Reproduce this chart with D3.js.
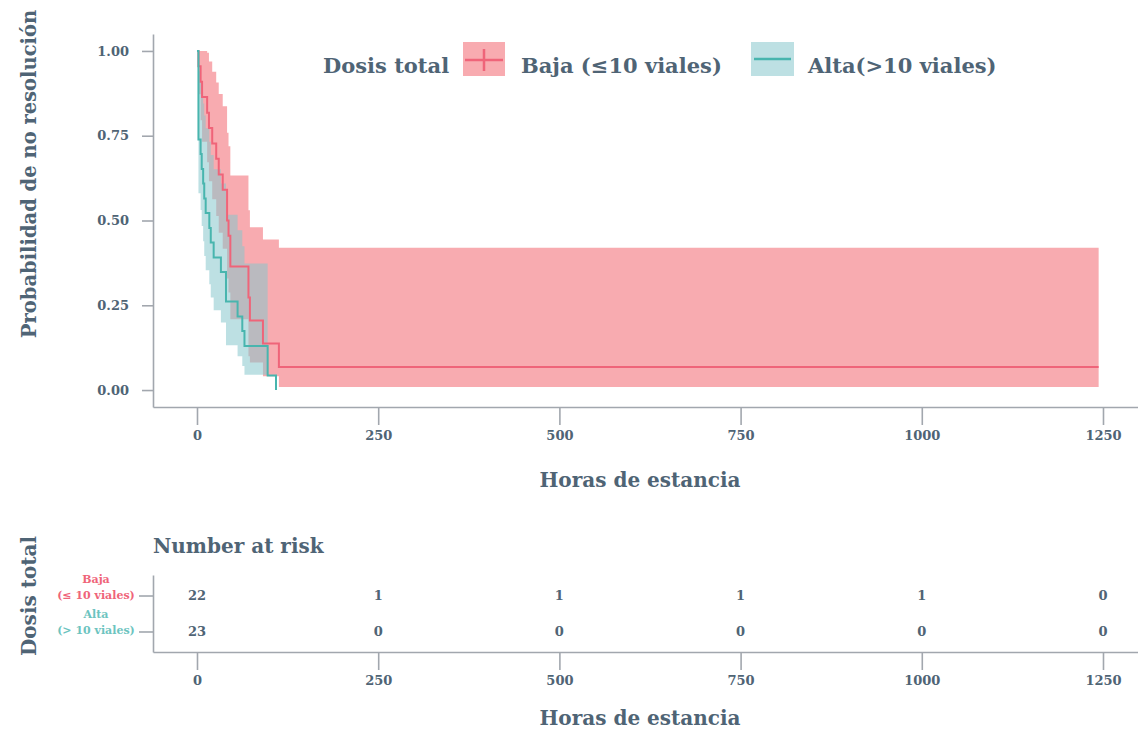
<!DOCTYPE html>
<html>
<head>
<meta charset="utf-8">
<script src="https://cdn.jsdelivr.net/npm/d3@7"></script>
<style>
  body { margin: 0; background: #fff; }
  svg text { font-family: "DejaVu Serif", Georgia, serif; font-weight: bold; }
</style>
</head>
<body>
<svg id="chart" width="1138" height="729"></svg>
<script>
// Kaplan-Meier curves (hours, survival, 95% band)
const bajaTime  = [0, 2, 5, 7, 14, 16.5, 21, 26.5, 30, 35.5, 41.5, 43.5, 46, 71, 73, 91, 113];
const bajaSurv  = [1, 0.955, 0.909, 0.864, 0.818, 0.773, 0.727, 0.682, 0.636, 0.591, 0.500, 0.455, 0.364, 0.273, 0.205, 0.137, 0.068];
const bajaUpper = [1, 1, 1, 1, 0.995, 0.969, 0.939, 0.907, 0.873, 0.837, 0.759, 0.719, 0.633, 0.53, 0.48, 0.444, 0.42];
const bajaLower = [1, 0.872, 0.796, 0.732, 0.672, 0.616, 0.563, 0.513, 0.464, 0.417, 0.329, 0.288, 0.209, 0.10, 0.081, 0.041, 0.009];
const bajaEnd = 1244;

const altaTime  = [0, 2, 5, 6.5, 8.5, 10, 12, 17, 19, 23, 33, 40, 56, 62.5, 65.5, 97.5, 109];
const altaSurv  = [1, 0.739, 0.696, 0.652, 0.609, 0.565, 0.522, 0.478, 0.435, 0.391, 0.348, 0.261, 0.217, 0.174, 0.130, 0.043, 0];
const altaUpper = [1, 0.94, 0.91, 0.879, 0.845, 0.81, 0.772, 0.732, 0.693, 0.651, 0.609, 0.517, 0.471, 0.424, 0.373];
const altaLower = [1, 0.58, 0.531, 0.484, 0.439, 0.395, 0.353, 0.312, 0.273, 0.235, 0.199, 0.132, 0.10, 0.071, 0.045];
const altaBandEnd = 97.5;

const xTicks = [0, 250, 500, 750, 1000, 1250];
const yTicks = [0, 0.25, 0.5, 0.75, 1];
const riskGroups = ["Baja", "Alta"];
const riskBaja = [22, 1, 1, 1, 1, 0];
const riskAlta = [23, 0, 0, 0, 0, 0];

const textCol = "#4f6475";
const axisCol = "#a2a7ae";
const redLine = "#ef6479", tealLine = "#48b5ae";
const redFill = "#f2666f", tealFill = "#87c7cc";

const svg = d3.select("#chart");

// ---- main panel
const pLeft = 153, pRight = 1138, pTop = 34, pBottom = 407;
const x = d3.scaleLinear().domain([-60.7, 1298.3]).range([pLeft, pRight]);
const y = d3.scaleLinear().domain([-0.05, 1.05]).range([pBottom, pTop]);

const area = d3.area()
    .x(d => x(d.t))
    .y0(d => y(d.lo))
    .y1(d => y(d.hi))
    .curve(d3.curveStepAfter);
const line = d3.line()
    .x(d => x(d.t))
    .y(d => y(d.s))
    .curve(d3.curveStepAfter);

const bajaBand = bajaTime.map((t, i) => ({ t, lo: bajaLower[i], hi: bajaUpper[i] }));
bajaBand.push({ t: bajaEnd, lo: bajaLower[bajaLower.length - 1], hi: bajaUpper[bajaUpper.length - 1] });
const altaBand = altaUpper.map((hi, i) => ({ t: altaTime[i], lo: altaLower[i], hi }));
altaBand.push({ t: altaBandEnd, lo: altaLower[altaLower.length - 1], hi: altaUpper[altaUpper.length - 1] });

const bajaPts = bajaTime.map((t, i) => ({ t, s: bajaSurv[i] }));
bajaPts.push({ t: bajaEnd, s: bajaSurv[bajaSurv.length - 1] });
const altaPts = altaTime.map((t, i) => ({ t, s: altaSurv[i] }));

svg.append("path").datum(bajaBand).attr("d", area)
    .attr("fill", redFill).attr("fill-opacity", 0.55);
svg.append("path").datum(altaBand).attr("d", area)
    .attr("fill", tealFill).attr("fill-opacity", 0.55);
svg.append("path").datum(bajaPts).attr("d", line)
    .attr("fill", "none").attr("stroke", redLine).attr("stroke-width", 2);
svg.append("path").datum(altaPts).attr("d", line)
    .attr("fill", "none").attr("stroke", tealLine).attr("stroke-width", 2);

function styleAxis(g, size) {
    g.select(".domain").attr("stroke", axisCol).attr("stroke-width", 1.6);
    g.selectAll(".tick line").attr("stroke", axisCol).attr("stroke-width", 1.6);
    g.selectAll(".tick text").attr("fill", textCol)
        .style("font-size", size + "px").style("font-family", '"DejaVu Serif", serif')
        .style("font-weight", "bold");
}

svg.append("g")
    .attr("transform", `translate(0,${pBottom})`)
    .call(d3.axisBottom(x).tickValues(xTicks).tickFormat(d3.format("d")).tickSize(18).tickSizeOuter(0).tickPadding(6))
    .call(g => styleAxis(g, 13));
svg.append("g")
    .attr("transform", `translate(${pLeft},0)`)
    .call(d3.axisLeft(y).tickValues(yTicks).tickFormat(d3.format(".2f")).tickSize(11).tickSizeOuter(0).tickPadding(13))
    .call(g => styleAxis(g, 13));

svg.append("text")
    .attr("x", 640).attr("y", 487)
    .attr("text-anchor", "middle").attr("fill", textCol)
    .style("font-size", "20px").text("Horas de estancia");
svg.append("text")
    .attr("transform", "translate(36,174) rotate(-90)")
    .attr("text-anchor", "middle").attr("fill", textCol)
    .style("font-size", "19.5px").text("Probabilidad de no resolución");

// ---- legend
const legend = svg.append("g");
legend.append("text").attr("x", 323).attr("y", 73).attr("fill", textCol)
    .style("font-size", "21px").text("Dosis total");
legend.append("rect").attr("x", 463).attr("y", 42).attr("width", 42).attr("height", 34)
    .attr("fill", redFill).attr("fill-opacity", 0.55);
legend.append("line").attr("x1", 465).attr("x2", 503).attr("y1", 60).attr("y2", 60)
    .attr("stroke", redLine).attr("stroke-width", 2.5);
legend.append("line").attr("x1", 484).attr("x2", 484).attr("y1", 49).attr("y2", 71)
    .attr("stroke", redLine).attr("stroke-width", 2.5);
legend.append("text").attr("x", 521).attr("y", 73).attr("fill", textCol)
    .style("font-size", "21px").text("Baja (≤10 viales)");
legend.append("rect").attr("x", 751).attr("y", 42).attr("width", 43).attr("height", 34)
    .attr("fill", tealFill).attr("fill-opacity", 0.55);
legend.append("line").attr("x1", 754).attr("x2", 791).attr("y1", 59).attr("y2", 59)
    .attr("stroke", tealLine).attr("stroke-width", 2.5);
legend.append("text").attr("x", 808).attr("y", 73).attr("fill", textCol)
    .style("font-size", "21px").text("Alta(>10 viales)");

// ---- risk table
const rTop = 575, rBottom = 652;
const ry = d3.scalePoint().domain(riskGroups).range([rTop, rBottom]).padding(0.57);

svg.append("text").attr("x", 153).attr("y", 553).attr("fill", textCol)
    .style("font-size", "20px").text("Number at risk");

const table = [
    { group: "Baja", values: riskBaja },
    { group: "Alta", values: riskAlta }
];
table.forEach(row => {
    svg.append("g").selectAll("text")
        .data(row.values)
        .join("text")
        .attr("x", (d, i) => x(xTicks[i]))
        .attr("y", ry(row.group))
        .attr("dy", "0.35em")
        .attr("text-anchor", "middle")
        .attr("fill", textCol)
        .style("font-size", "13px")
        .text(d => d);
});

svg.append("g")
    .attr("transform", `translate(0,${rBottom})`)
    .call(d3.axisBottom(x).tickValues(xTicks).tickFormat(d3.format("d")).tickSize(18).tickSizeOuter(0).tickPadding(6))
    .call(g => styleAxis(g, 13));
svg.append("g")
    .attr("transform", `translate(${pLeft},0)`)
    .call(d3.axisLeft(ry).tickSize(14).tickSizeOuter(0).tickFormat(""))
    .call(g => styleAxis(g, 12));

const groupLabels = [
    { group: "Baja", lines: ["Baja", "(≤ 10 viales)"], color: redLine },
    { group: "Alta", lines: ["Alta", "(> 10 viales)"], color: "#6cc4c0" }
];
groupLabels.forEach(g => {
    const t = svg.append("text")
        .attr("text-anchor", "middle")
        .attr("fill", g.color)
        .style("font-size", "11px");
    g.lines.forEach((l, i) => {
        t.append("tspan").attr("x", 96).attr("y", ry(g.group) - 13 + i * 16).text(l);
    });
});

svg.append("text")
    .attr("x", 640).attr("y", 725)
    .attr("text-anchor", "middle").attr("fill", textCol)
    .style("font-size", "20px").text("Horas de estancia");
svg.append("text")
    .attr("transform", "translate(36,596) rotate(-90)")
    .attr("text-anchor", "middle").attr("fill", textCol)
    .style("font-size", "20px").text("Dosis total");
</script>
</body>
</html>
